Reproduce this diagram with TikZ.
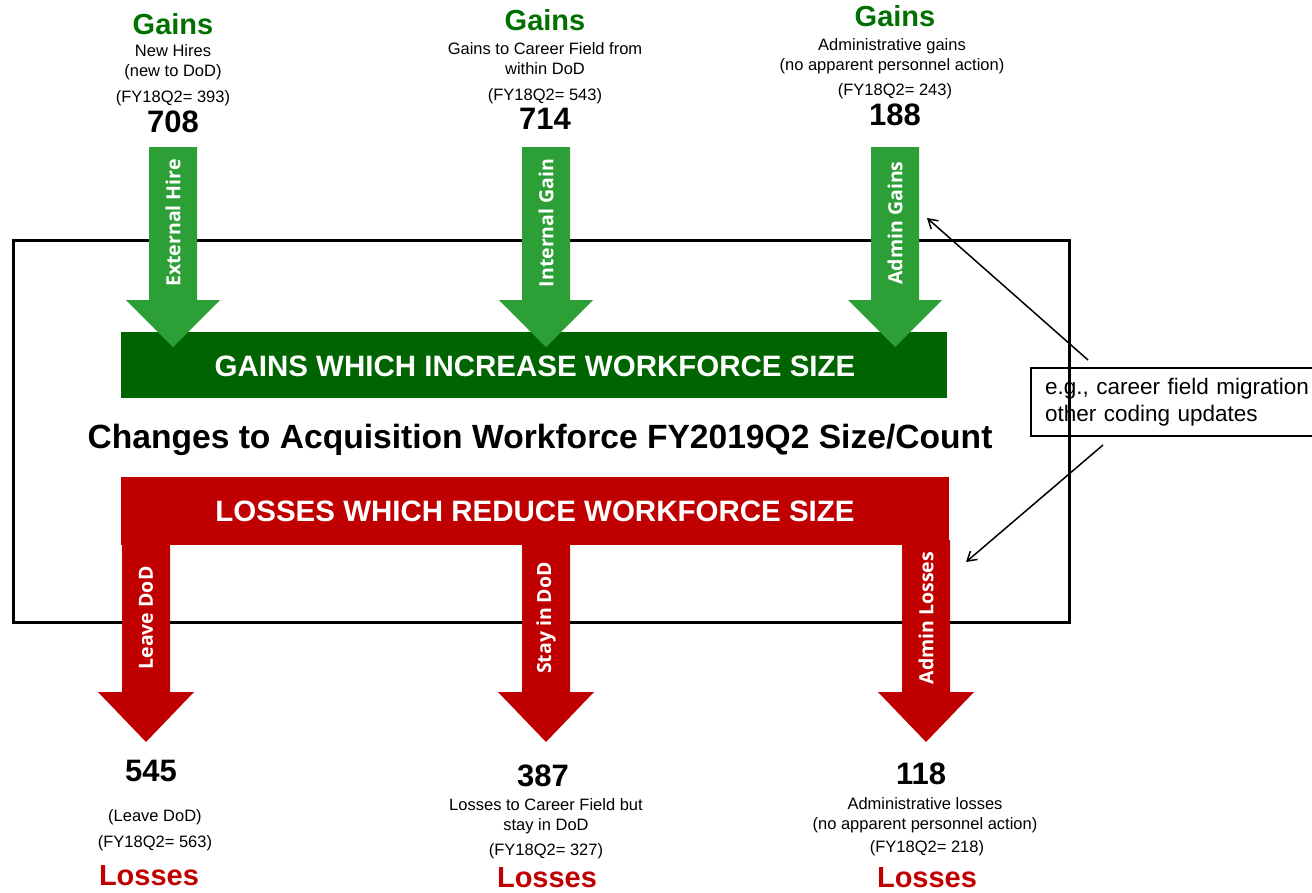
\documentclass[tikz,border=0pt]{standalone}
\usepackage{fontspec}
\setmainfont{Liberation Sans}
\newfontfamily\shaftfont{Open Sans}
\usetikzlibrary{arrows.meta,positioning}
\definecolor{gainlight}{RGB}{44,160,54}
\definecolor{gaindark}{RGB}{0,100,0}
\definecolor{gaintext}{RGB}{0,112,0}
\definecolor{lossred}{RGB}{192,0,0}
\tikzset{
  headtxt/.style={font=\fontsize{29}{32}\selectfont\bfseries},
  desctxt/.style={font=\fontsize{16.5}{20}\selectfont, align=center, inner sep=0pt},
  numtxt/.style={font=\fontsize{31}{34}\selectfont\bfseries, inner sep=0pt},
  bartxt/.style={text=white, font=\fontsize{29.5}{32}\selectfont\bfseries},
  shafttxt/.style={rotate=90, text=white, font=\shaftfont\fontsize{19.5}{22}\selectfont\bfseries},
  callout/.style={line width=1.5pt, -{Straight Barb[length=9pt,width=11pt]}}
}

\begin{document}
\begin{tikzpicture}[x=1pt, y=-1pt]
\useasboundingbox (0,0) rectangle (1312,892);

% outer frame
\draw[line width=3pt] (13,240) rectangle (1069,622);

% bars
\fill[gaindark] (121,332) rectangle (947,398);
\node[bartxt] (gainbar) at (535,366) {GAINS WHICH INCREASE WORKFORCE SIZE};
\fill[lossred] (121,477) rectangle (949,545);
\node[bartxt] (lossbar) at (535,511) {LOSSES WHICH REDUCE WORKFORCE SIZE};

\node[font=\fontsize{33.6}{36}\selectfont\bfseries] (title) at (540,440) {Changes to Acquisition Workforce FY2019Q2 Size/Count};

% gain arrows
\foreach \cx/\lab/\nm in {173/External Hire/ext, 546/Internal Gain/int, 895/Admin Gains/admg} {
  \fill[gainlight] (\cx-24,147) -- (\cx+24,147) -- (\cx+24,300) -- (\cx+47,300)
    -- (\cx,347) -- (\cx-47,300) -- (\cx-24,300) -- cycle;
  \node[shafttxt] (\nm) at (\cx,223) {\lab};
}

% loss arrows
\foreach \cx/\lab/\nm in {146/Leave DoD/leave, 546/Stay in DoD/stay, 926/Admin Losses/adml} {
  \fill[lossred] (\cx-24,540) -- (\cx+24,540) -- (\cx+24,692) -- (\cx+48,692)
    -- (\cx,742) -- (\cx-48,692) -- (\cx-24,692) -- cycle;
  \node[shafttxt] (\nm) at (\cx,618) {\lab};
}

% top labels
\node[headtxt, text=gaintext] (gh1) at (173,24) {Gains};
\node[desctxt] (gd1) at (173,62) {New Hires\\(new to DoD)};
\node[desctxt] (gf1) at (173,98) {(FY18Q2= 393)};
\node[numtxt] (gn1) at (173,122) {708};

\node[headtxt, text=gaintext] (gh2) at (545,20) {Gains};
\node[desctxt] (gd2) at (545,59) {Gains to Career Field from\\within DoD};
\node[desctxt] (gf2) at (545,96) {(FY18Q2= 543)};
\node[numtxt] (gn2) at (545,119) {714};

\node[headtxt, text=gaintext] (gh3) at (895,16) {Gains};
\node[desctxt] (gd3) at (892,56) {Administrative gains\\(no apparent personnel action)};
\node[desctxt] (gf3) at (895,91) {(FY18Q2= 243)};
\node[numtxt] (gn3) at (895,115) {188};

% bottom labels
\node[numtxt] (ln1) at (151,771) {545};
\node[desctxt] (ld1) at (155,817) {(Leave DoD)};
\node[desctxt] (lf1) at (155,843) {(FY18Q2= 563)};
\node[headtxt, text=lossred] (lh1) at (149,876) {Losses};

\node[numtxt] (ln2) at (543,776) {387};
\node[desctxt] (ld2) at (546,816) {Losses to Career Field but\\stay in DoD};
\node[desctxt] (lf2) at (546,851) {(FY18Q2= 327)};
\node[headtxt, text=lossred] (lh2) at (547,878) {Losses};

\node[numtxt] (ln3) at (921,774) {118};
\node[desctxt] (ld3) at (925,815) {Administrative losses\\(no apparent personnel action)};
\node[desctxt] (lf3) at (927,848) {(FY18Q2= 218)};
\node[headtxt, text=lossred] (lh3) at (927,878) {Losses};

% callout
\node[draw, line width=2pt, anchor=north west, minimum height=68pt, text width=290pt,
  inner xsep=14pt, align=left, font=\fontsize{22.5}{27}\selectfont] (note) at (1030,367)
  {e.g., career field migration\\other coding updates};
\coordinate (admgtip) at (927,218);
\coordinate (admltip) at (966,562);
\draw[callout] ([xshift=58pt,yshift=7pt]note.north west) -- (admgtip);
\draw[callout] ([xshift=73pt,yshift=-8pt]note.south west) -- (admltip);
\end{tikzpicture}
\end{document}
